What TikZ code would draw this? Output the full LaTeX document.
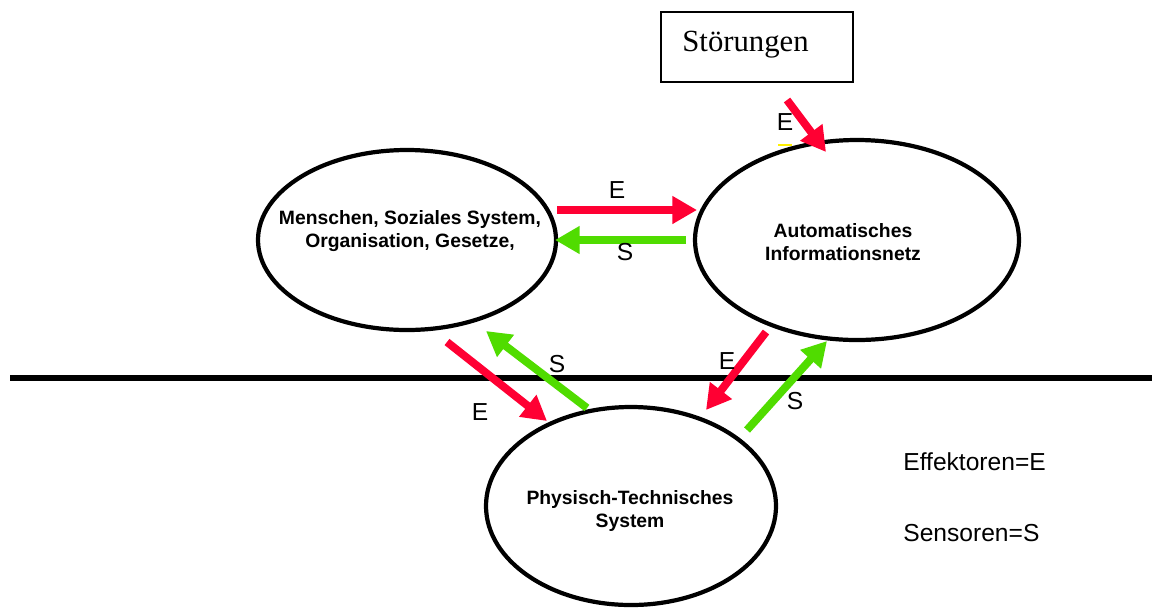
\documentclass[tikz,border=0pt]{standalone}
\usepackage{fontspec}
\setmainfont{Liberation Serif}
\setsansfont{Liberation Sans}
\usetikzlibrary{arrows.meta}
\definecolor{effred}{RGB}{255,0,51}
\definecolor{sensgreen}{RGB}{80,220,0}
\definecolor{markyellow}{RGB}{255,240,0}
\tikzset{
  sysfont/.style={font=\sffamily\bfseries\fontsize{11}{13.5}\selectfont, align=center},
  lbl/.style={font=\sffamily\fontsize{14}{16}\selectfont, inner sep=0pt},
  effarrow/.style={draw=effred, line width=4.5pt, -{Triangle[length=14pt,width=15pt]}},
  sensarrow/.style={draw=sensgreen, line width=4.5pt, -{Triangle[length=14pt,width=15pt]}},
}
\begin{document}
\begin{tikzpicture}[x=0.02cm, y=-0.02cm]
\useasboundingbox (0,0) rectangle (1152,609);

% the three subsystems
\draw[line width=2.4pt] (407,240) ellipse [x radius=149, y radius=90];
\draw[line width=2.4pt] (857,240) ellipse [x radius=162, y radius=100];
\draw[line width=2.4pt] (631,506) ellipse [x radius=145, y radius=99];
\node[sysfont] (men) at (410,231) {Menschen, Soziales System,\\Organisation, Gesetze,};
\node[sysfont] (ain) at (843,242) {Automatisches\\Informationsnetz};
\node[sysfont] (pts) at (630,511) {Physisch-Technisches\\System};

% disturbance box
\node[draw, line width=0.8pt, minimum width=192*0.02cm, minimum height=70*0.02cm] (stoer) at (757,47) {};
\node[font=\fontsize{17.5}{20}\selectfont, anchor=base west, inner sep=0pt] (stoertxt) at (682,51) {Störungen};

% boundary line
\coordinate (hl) at (10,378);
\coordinate (hr) at (1152,378);
\draw[line width=3.4pt] (hl) -- (hr);

% arrow end points
\coordinate (d1) at (787,100);  \coordinate (d2) at (826,152);
\coordinate (e1a) at (557,210); \coordinate (e1b) at (697,210);
\coordinate (s1a) at (686,240); \coordinate (s1b) at (555,240);
\coordinate (e2a) at (447,342); \coordinate (e2b) at (547,421);
\coordinate (s2a) at (587,408); \coordinate (s2b) at (486,331);
\coordinate (e3a) at (766,332); \coordinate (e3b) at (706,410);
\coordinate (s3a) at (747,430); \coordinate (s3b) at (827,341);

\draw[effarrow] (d1) -- (d2);
\draw[effarrow] (e1a) -- (e1b);
\draw[sensarrow] (s1a) -- (s1b);
\draw[effarrow] (e2a) -- (e2b);
\draw[sensarrow] (s2a) -- (s2b);
\draw[effarrow] (e3a) -- (e3b);
\draw[sensarrow] (s3a) -- (s3b);

% small mark under the disturbance label
\coordinate (ym1) at (778,145); \coordinate (ym2) at (792,145);
\draw[markyellow, line width=1.3pt] (ym1) -- (ym2);

% arrow labels
\node[lbl] (le0) at (785,122) {E};
\node[lbl] (le1) at (617,190) {E};
\node[lbl] (ls1) at (625,252) {S};
\node[lbl] (le2) at (480,412) {E};
\node[lbl] (ls2) at (557,364) {S};
\node[lbl] (le3) at (727,361) {E};
\node[lbl] (ls3) at (795,401) {S};

% legend
\node[lbl, anchor=west] (leg1) at (903,462) {Effektoren=E};
\node[lbl, anchor=west] (leg2) at (903,533) {Sensoren=S};
\end{tikzpicture}
\end{document}
